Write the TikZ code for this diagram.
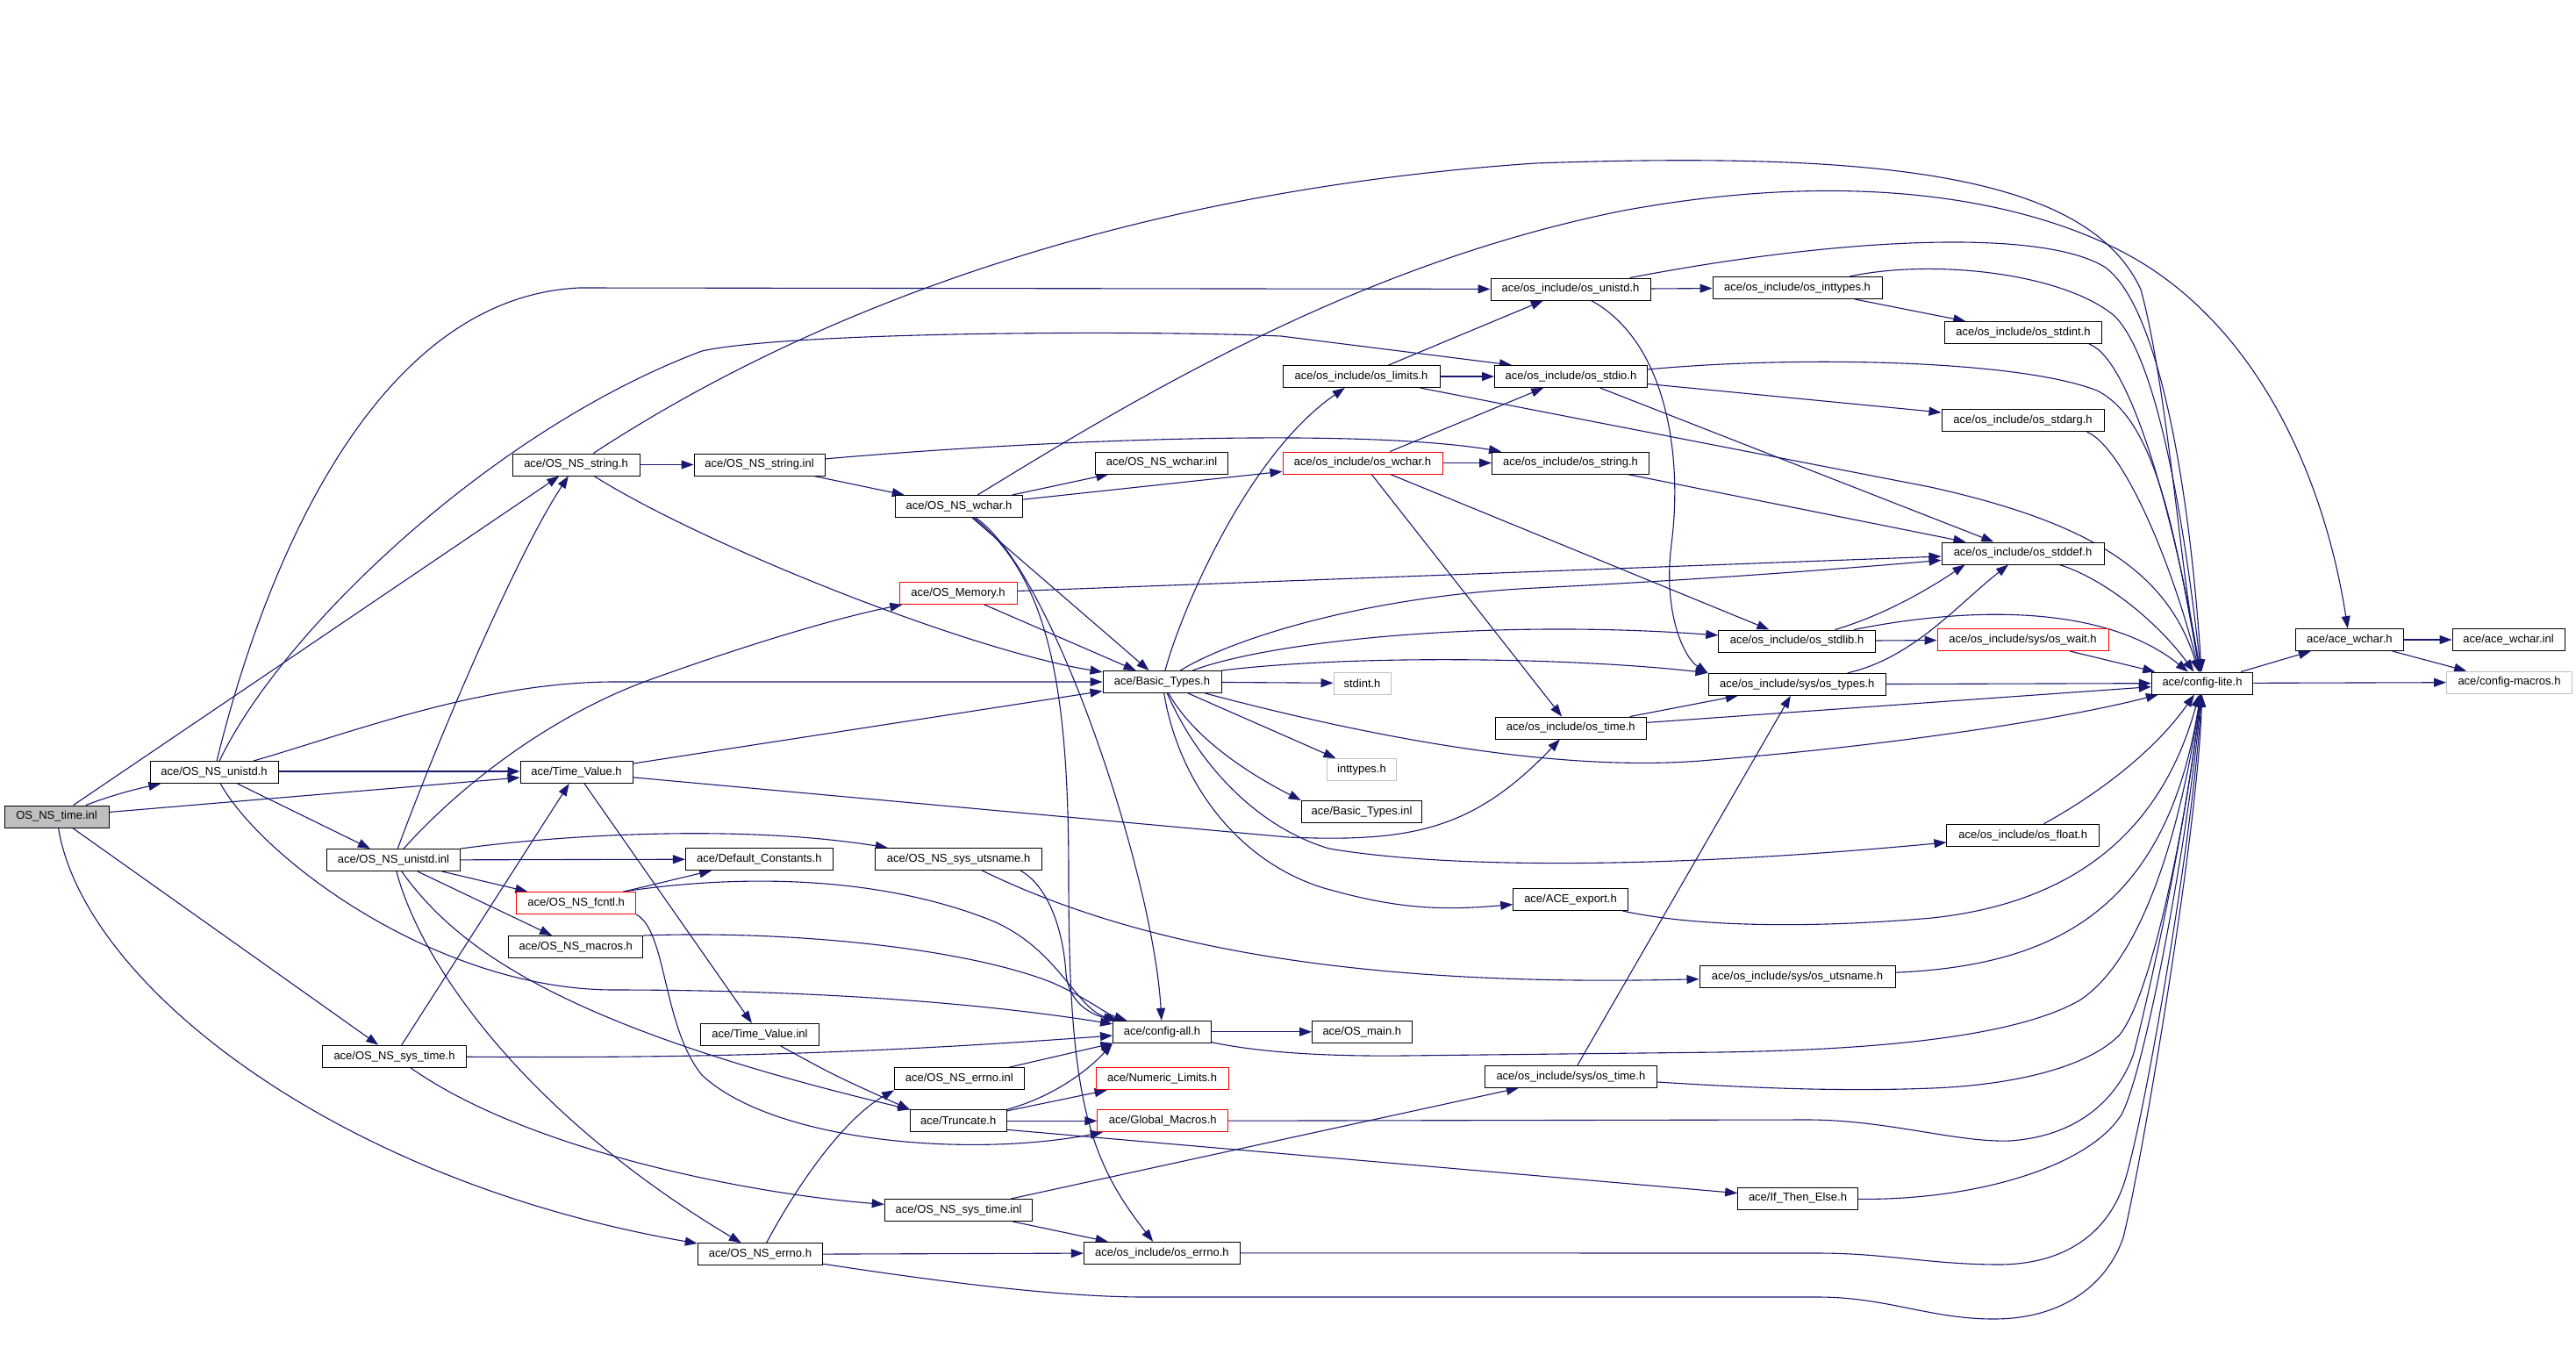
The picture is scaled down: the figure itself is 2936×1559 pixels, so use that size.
\documentclass[tikz,border=0pt]{standalone}
\usepackage{fontspec}
\setmainfont{Liberation Sans}
\usetikzlibrary{arrows.meta,calc}
\pgfdeclarelayer{bg}
\pgfsetlayers{bg,main}
\definecolor{dxblue}{HTML}{191970}
\definecolor{dxgray}{HTML}{BFBFBF}
\begin{document}
\begin{tikzpicture}[x=1pt,y=-1pt,
  nbox/.style={draw=black,line width=1pt,fill=white,minimum height=25pt,inner sep=0pt,font=\fontsize{13}{15}\selectfont,text=black},
  redb/.style={nbox,draw=red},
  grayb/.style={nbox,draw=dxgray},
  rootb/.style={nbox,fill=dxgray},
  dep/.style={draw=dxblue,line width=1.1pt,-{Triangle[length=14pt,width=10pt]}}]
\useasboundingbox (0,0) rectangle (2936,1559);
% nodes
\node[rootb,minimum width=119pt] (root) at (64.5,930.5) {OS\_NS\_time.inl};
\node[nbox,minimum width=146pt] (unistdh) at (244,880) {ace/OS\_NS\_unistd.h};
\node[nbox,minimum width=128pt] (timevalueh) at (657,880) {ace/Time\_Value.h};
\node[nbox,minimum width=145pt] (stringh) at (656.5,529.5) {ace/OS\_NS\_string.h};
\node[nbox,minimum width=149pt] (stringinl) at (865.5,529.5) {ace/OS\_NS\_string.inl};
\node[nbox,minimum width=151pt] (wcharinl) at (1324,527.5) {ace/OS\_NS\_wchar.inl};
\node[nbox,minimum width=145pt] (wcharh) at (1093,577) {ace/OS\_NS\_wchar.h};
\node[redb,minimum width=134pt] (memory) at (1092,676) {ace/OS\_Memory.h};
\node[nbox,minimum width=182pt] (osunistd) at (1790,329.5) {ace/os\_include/os\_unistd.h};
\node[nbox,minimum width=193pt] (osinttypes) at (2048.5,328) {ace/os\_include/os\_inttypes.h};
\node[nbox,minimum width=179pt] (oslimits) at (1551.5,429) {ace/os\_include/os\_limits.h};
\node[nbox,minimum width=174pt] (osstdio) at (1790.5,429) {ace/os\_include/os\_stdio.h};
\node[redb,minimum width=182pt] (oswchar) at (1553,527.5) {ace/os\_include/os\_wchar.h};
\node[nbox,minimum width=179pt] (osstring) at (1790,527.5) {ace/os\_include/os\_string.h};
\node[nbox,minimum width=179pt] (osstdint) at (2306,379) {ace/os\_include/os\_stdint.h};
\node[nbox,minimum width=185pt] (osstdarg) at (2305.5,479) {ace/os\_include/os\_stdarg.h};
\node[nbox,minimum width=185pt] (osstddef) at (2305.5,630.5) {ace/os\_include/os\_stddef.h};
\node[nbox,minimum width=152pt] (unistdinl) at (448.5,980) {ace/OS\_NS\_unistd.inl};
\node[redb,minimum width=136pt] (fcntl) at (656.6,1029) {ace/OS\_NS\_fcntl.h};
\node[nbox,minimum width=153pt] (macros) at (656.3,1079) {ace/OS\_NS\_macros.h};
\node[nbox,minimum width=135pt] (basictypesh) at (1324.5,777) {ace/Basic\_Types.h};
\node[nbox,minimum width=168pt] (defconst) at (865.4,979) {ace/Default\_Constants.h};
\node[nbox,minimum width=190pt] (sysutsname) at (1092.6,979) {ace/OS\_NS\_sys\_utsname.h};
\node[nbox,minimum width=178.5pt] (osstdlib) at (2048,730.5) {ace/os\_include/os\_stdlib.h};
\node[nbox,minimum width=202.6pt] (systypes) at (2048.3,779.8) {ace/os\_include/sys/os\_types.h};
\node[grayb,minimum width=65pt] (stdint) at (1552.5,778.5) {stdint.h};
\node[nbox,minimum width=172pt] (ostime) at (1790.3,829.5) {ace/os\_include/os\_time.h};
\node[grayb,minimum width=79.5pt] (inttypes) at (1552,877) {inttypes.h};
\node[nbox,minimum width=137.5pt] (basictypesinl) at (1552,925) {ace/Basic\_Types.inl};
\node[nbox,minimum width=130.5pt] (export) at (1790,1025) {ace/ACE\_export.h};
\node[nbox,minimum width=223pt] (sysosutsname) at (2048.5,1113) {ace/os\_include/sys/os\_utsname.h};
\node[redb,minimum width=195pt] (oswait) at (2305.5,729) {ace/os\_include/sys/os\_wait.h};
\node[nbox,minimum width=115.5pt] (configlite) at (2510,778.5) {ace/config-lite.h};
\node[nbox,minimum width=123.5pt] (acewcharh) at (2677.8,729) {ace/ace\_wchar.h};
\node[nbox,minimum width=128pt] (acewcharinl) at (2859,729) {ace/ace\_wchar.inl};
\node[grayb,minimum width=143pt] (configmacros) at (2860,777.5) {ace/config-macros.h};
\node[nbox,minimum width=173.5pt] (osfloat) at (2305.7,951.7) {ace/os\_include/os\_float.h};
\node[nbox,minimum width=164pt] (systimeh) at (449.5,1203.7) {ace/OS\_NS\_sys\_time.h};
\node[nbox,minimum width=134.4pt] (timevalueinl) at (866,1178.8) {ace/Time\_Value.inl};
\node[nbox,minimum width=112pt] (configall) at (1324.5,1175.8) {ace/config-all.h};
\node[nbox,minimum width=147.4pt] (errnoinl) at (1093.3,1229.3) {ace/OS\_NS\_errno.inl};
\node[redb,minimum width=151pt] (numlimits) at (1324.5,1229.3) {ace/Numeric\_Limits.h};
\node[nbox,minimum width=109.6pt] (truncate) at (1092.2,1277.3) {ace/Truncate.h};
\node[redb,minimum width=148.7pt] (globalmacros) at (1325.3,1277.3) {ace/Global\_Macros.h};
\node[nbox,minimum width=168.7pt] (systimeinl) at (1092.6,1379) {ace/OS\_NS\_sys\_time.inl};
\node[nbox,minimum width=142.4pt] (errnoh) at (866.5,1429.3) {ace/OS\_NS\_errno.h};
\node[nbox,minimum width=178pt] (oserrno) at (1324.4,1427.8) {ace/os\_include/os\_errno.h};
\node[nbox,minimum width=113.4pt] (osmain) at (1552.3,1175.8) {ace/OS\_main.h};
\node[nbox,minimum width=195.3pt] (sysostime) at (1790.4,1226.8) {ace/os\_include/sys/os\_time.h};
\node[nbox,minimum width=136.7pt] (ifthenelse) at (2049,1365.5) {ace/If\_Then\_Else.h};
\begin{pgfonlayer}{bg}
\fill[white] (0,0) rectangle (2936,1559);
% root
\draw[dep] (root) .. controls (130,905) and (160,898) .. (unistdh);
\draw[dep] (root) -- ($(timevalueh.west)+(0,6)$);
\draw[dep] (root) -- (stringh);
\draw[dep] (root) -- (systimeh);
\draw[dep] (root) .. controls (95,1120) and (380,1345) .. (errnoh);
% OS_NS_unistd.h
\draw[dep] (unistdh) .. controls (290,690) and (410,340) .. (660,328) -- (osunistd);
\draw[dep] (unistdh) .. controls (320,720) and (560,490) .. (800,400) .. controls (900,378) and (1300,376) .. (1460,383) -- ($(osstdio.north west)+(20,0)$);
\draw[dep] ($(unistdh.east)+(0,-1)$) -- ($(timevalueh.west)+(0,-1)$);
\draw[dep] (unistdh) .. controls (400,835) and (550,777) .. (700,777) -- (basictypesh);
\draw[dep] (unistdh) -- (unistdinl);
\draw[dep] (unistdh) .. controls (300,980) and (500,1128) .. (700,1128) .. controls (900,1128) and (1100,1140) .. (configall);
% OS_NS_unistd.inl
\draw[dep] (unistdinl) .. controls (500,840) and (590,630) .. (stringh);
\draw[dep] (unistdinl) .. controls (520,900) and (620,820) .. (734,777) .. controls (850,735) and (950,705) .. (memory);
\draw[dep] (unistdinl) -- (defconst);
\draw[dep] (unistdinl.north east) .. controls (650,950) and (850,940) .. (sysutsname);
\draw[dep] (unistdinl) -- (fcntl);
\draw[dep] (unistdinl) -- (macros);
\draw[dep] (unistdinl) .. controls (480,1100) and (600,1270) .. (errnoh);
\draw[dep] (unistdinl) .. controls (520,1080) and (640,1170) .. (truncate);
% Time_Value.h
\draw[dep] (timevalueh) -- (basictypesh);
\draw[dep] (timevalueh) -- (timevalueinl);
\draw[dep] (timevalueh) -- (1468,954) .. controls (1610,960) and (1680,945) .. (ostime);
% OS_NS_sys_time.h
\draw[dep] (systimeh) -- (timevalueh);
\draw[dep] (systimeh) .. controls (800,1206) and (1000,1200) .. (configall);
\draw[dep] (systimeh) .. controls (600,1310) and (850,1360) .. (systimeinl);
% OS_NS_string.h
\draw[dep] (stringh) -- (stringinl);
\draw[dep] (stringh) .. controls (800,620) and (1100,740) .. (basictypesh);
\draw[dep] (stringh) .. controls (900,370) and (1250,220) .. (1750,186) .. controls (2150,172) and (2380,200) .. (2440,330) .. controls (2470,440) and (2485,650) .. (configlite);
% OS_NS_string.inl
\draw[dep] (stringinl) -- (wcharh);
\draw[dep] (stringinl) .. controls (1200,500) and (1550,488) .. (osstring);
% OS_NS_wchar.h
\draw[dep] (wcharh) -- (wcharinl);
\draw[dep] (wcharh) -- (oswchar);
\draw[dep] (wcharh) -- (basictypesh);
\draw[dep] (wcharh) .. controls (1200,650) and (1315,1000) .. (configall);
\draw[dep] (wcharh) .. controls (1200,660) and (1218,800) .. (1218,1000) .. controls (1218,1250) and (1240,1320) .. (oserrno);
\draw[dep] (wcharh) .. controls (1300,450) and (1550,300) .. (1850,240) .. controls (2150,185) and (2350,240) .. (2450,305) .. controls (2580,390) and (2650,550) .. (acewcharh);
% OS_Memory.h
\draw[dep] (memory) -- (basictypesh);
\draw[dep] (memory) -- (osstddef);
% os_wchar.h
\draw[dep] (oswchar) -- (osstdio);
\draw[dep] (oswchar) -- (osstring);
\draw[dep] (oswchar) -- (osstdlib);
\draw[dep] (oswchar) -- (ostime);
% os_limits.h
\draw[dep] (oslimits) -- (osunistd);
\draw[dep] (oslimits) -- (osstdio);
\draw[dep] (oslimits) -- (2200,555) .. controls (2380,595) and (2470,650) .. (configlite);
% os_stdio.h
\draw[dep] (osstdio) -- (osstdarg);
\draw[dep] (osstdio) .. controls (2050,405) and (2300,410) .. (2390,445) .. controls (2460,480) and (2480,620) .. (configlite);
\draw[dep] (osstdio) -- (osstddef);
% os_string.h
\draw[dep] (osstring) -- (osstddef);
% os_unistd.h
\draw[dep] (osunistd) -- (osinttypes);
\draw[dep] (osunistd) .. controls (2100,270) and (2330,260) .. (2400,305) .. controls (2460,350) and (2495,550) .. (configlite);
\draw[dep] (osunistd) .. controls (1900,390) and (1918,520) .. (1905,620) .. controls (1895,700) and (1920,750) .. (systypes.north west);
% os_inttypes.h
\draw[dep] (osinttypes) -- (osstdint);
\draw[dep] (osinttypes) .. controls (2200,295) and (2350,310) .. (2410,360) .. controls (2460,410) and (2490,600) .. (configlite);
% os_stdint.h, os_stdarg.h, os_stddef.h
\draw[dep] ($(osstdint.south east)+(-15,0)$) .. controls (2430,410) and (2480,600) .. (configlite);
\draw[dep] ($(osstdarg.south east)+(-20,0)$) .. controls (2420,510) and (2475,640) .. (configlite);
\draw[dep] (osstddef) .. controls (2400,660) and (2460,710) .. (configlite);
% os_stdlib.h
\draw[dep] (osstdlib) .. controls (2150,700) and (2200,670) .. ($(osstddef.south west)+(27,0)$);
\draw[dep] (osstdlib) -- (oswait);
\draw[dep] (osstdlib) .. controls (2250,690) and (2400,690) .. (configlite);
% sys/os_types.h
\draw[dep] (systypes) -- (configlite);
\draw[dep] (systypes) .. controls (2180,750) and (2230,690) .. (osstddef);
% os_time.h
\draw[dep] (ostime) -- (systypes);
\draw[dep] (ostime) -- (configlite);
% Basic_Types.h
\draw[dep] (basictypesh) .. controls (1345,700) and (1420,520) .. (oslimits);
\draw[dep] (basictypesh) .. controls (1400,730) and (1550,680) .. (1750,670) .. controls (1950,660) and (2100,648) .. (osstddef);
\draw[dep] (basictypesh) .. controls (1450,730) and (1700,705) .. (osstdlib);
\draw[dep] (basictypesh.north east) .. controls (1550,745) and (1800,750) .. (systypes.north west);
\draw[dep] (basictypesh) -- (stdint);
\draw[dep] (basictypesh) .. controls (1600,850) and (1800,880) .. (1950,866) .. controls (2150,850) and (2350,820) .. (configlite);
\draw[dep] (basictypesh) -- (inttypes);
\draw[dep] (basictypesh) .. controls (1360,840) and (1420,880) .. (basictypesinl.north west);
\draw[dep] (basictypesh) .. controls (1370,880) and (1440,945) .. (1515,967) .. controls (1650,990) and (1900,990) .. (osfloat);
\draw[dep] (basictypesh) .. controls (1345,900) and (1420,990) .. (1520,1015) .. controls (1600,1037) and (1650,1037) .. (export);
% OS_NS_fcntl.h
\draw[dep] (fcntl) -- (defconst);
\draw[dep] ($(fcntl.north east)+(-15,0)$) .. controls (850,995) and (1000,1000) .. (1120,1045) .. controls (1205,1075) and (1225,1150) .. (configall);
\draw[dep] (fcntl.south east) .. controls (760,1060) and (755,1170) .. (800,1225) .. controls (880,1300) and (1100,1320) .. (globalmacros);
% OS_NS_macros.h
\draw[dep] (macros.north east) .. controls (900,1060) and (1100,1080) .. (1200,1120) .. controls (1240,1138) and (1260,1155) .. (configall);
% OS_NS_sys_utsname.h
\draw[dep] ($(sysutsname.south east)+(-25,0)$) .. controls (1195,1010) and (1212,1060) .. (1215,1110) .. controls (1218,1140) and (1240,1155) .. (configall);
\draw[dep] (sysutsname) .. controls (1300,1080) and (1550,1125) .. (sysosutsname);
% Time_Value.inl, OS_NS_errno.inl
\draw[dep] (timevalueinl) .. controls (950,1225) .. (truncate.north west);
\draw[dep] (errnoinl) -- (configall);
% Truncate.h
\draw[dep] (truncate.north east) .. controls (1200,1250) and (1240,1220) .. (configall.south west);
\draw[dep] (truncate) -- (numlimits);
\draw[dep] (truncate) -- (globalmacros);
\draw[dep] ($(truncate.south east)+(0,-3)$) -- (ifthenelse);
% Global_Macros.h
\draw[dep] (globalmacros) -- (2060,1276) .. controls (2150,1276) and (2230,1302) .. (2290,1300) .. controls (2370,1295) and (2415,1250) .. (2432,1200) .. controls (2450,1130) and (2490,950) .. (configlite);
% If_Then_Else.h
\draw[dep] (ifthenelse) .. controls (2250,1368) and (2380,1330) .. (2418,1270) .. controls (2445,1220) and (2495,950) .. (configlite);
% os_errno.h
\draw[dep] (oserrno) -- (2072,1428) .. controls (2150,1428) and (2200,1441) .. (2280,1441) .. controls (2360,1440) and (2405,1400) .. (2422,1345) .. controls (2445,1270) and (2500,950) .. (configlite);
% OS_NS_errno.h
\draw[dep] (errnoh) .. controls (1100,1465) and (1220,1478) .. (1305,1478) -- (2072,1478) .. controls (2150,1478) and (2200,1503) .. (2272,1503) .. controls (2360,1503) and (2405,1455) .. (2420,1410) .. controls (2440,1330) and (2505,950) .. (configlite);
\draw[dep] (errnoh) -- (oserrno);
\draw[dep] (errnoh) .. controls (920,1330) and (970,1270) .. (errnoinl.south west);
% config-all.h
\draw[dep] (configall) -- (osmain);
\draw[dep] (configall) .. controls (1430,1198) and (1500,1204) .. (1600,1203) -- (1960,1199) .. controls (2150,1196) and (2300,1180) .. (2370,1140) .. controls (2440,1095) and (2485,950) .. (configlite);
% sys/os_time.h
\draw[dep] (sysostime) -- (systypes);
\draw[dep] (sysostime) .. controls (2000,1240) and (2100,1244) .. (2202,1240) .. controls (2300,1236) and (2380,1215) .. (2415,1180) .. controls (2450,1140) and (2490,950) .. (configlite);
% OS_NS_sys_time.inl
\draw[dep] (systimeinl) -- (sysostime);
\draw[dep] (systimeinl) -- (oserrno);
% ACE_export.h, os_float.h, sys/os_utsname.h, sys/os_wait.h
\draw[dep] (export) .. controls (1950,1060) and (2100,1055) .. (2202,1046) .. controls (2350,1030) and (2460,960) .. (configlite);
\draw[dep] (osfloat) .. controls (2400,900) and (2460,850) .. (configlite);
\draw[dep] (sysosutsname) .. controls (2350,1100) and (2470,1030) .. (configlite);
\draw[dep] (oswait) -- (configlite);
% config-lite.h, ace_wchar.h
\draw[dep] (configlite) -- (acewcharh);
\draw[dep] (configlite) -- (configmacros);
\draw[dep] (acewcharh) -- (acewcharinl);
\draw[dep] (acewcharh) -- (configmacros);
\end{pgfonlayer}
\end{tikzpicture}
\end{document}
